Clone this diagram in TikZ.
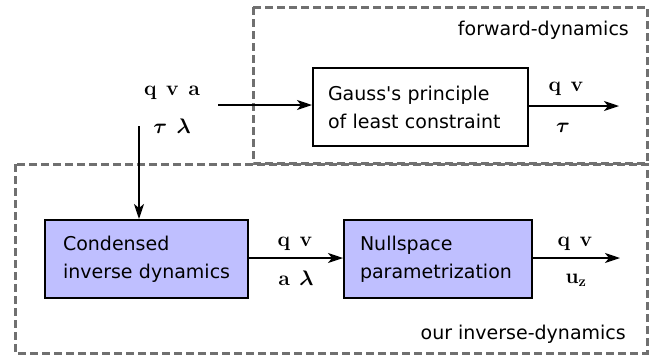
\RequirePackage{fix-cm}
\documentclass[tikz,border=0pt]{standalone}
\usepackage{amsmath,bm}
\usepackage[no-math]{fontspec}
\setmainfont{DejaVu Sans}
\usetikzlibrary{arrows.meta}
\definecolor{dgray}{RGB}{112,112,112}
\definecolor{lav}{RGB}{191,191,255}
\newcommand\txtfont{\fontsize{19}{28}\selectfont}
\newcommand\mthfont{\fontsize{21}{26}\selectfont}
\newcommand\gp{\hspace{0.45em}}
\tikzset{
  blk/.style={draw=black, line width=2pt, minimum height=78pt, align=left, inner ysep=0pt, font=\txtfont},
  dbox/.style={draw=dgray, line width=3pt, dash pattern=on 8pt off 4pt},
  arr/.style={line width=2pt, -{Stealth[length=15pt,width=10pt,inset=4pt]}},
  lbl/.style={inner sep=0pt, font=\mthfont, anchor=base},
  captxt/.style={inner sep=0pt, font=\txtfont, anchor=base east}
}
\begin{document}
\begin{tikzpicture}[x=1pt,y=-1pt]
\useasboundingbox (0,0) rectangle (660,360);
% dashed regions
\draw[dbox] (253,7) rectangle (647,163);
\draw[dbox] (15,164) rectangle (647,353);
\node[captxt] (fd) at (629,35) {forward-dynamics};
\node[captxt] (id) at (626,339) {our inverse-dynamics};
% blocks
\node[blk, text width=185pt, inner xsep=15pt] (gauss) at (420.5,107)
  {\mbox{Gauss\textquotesingle s principle}\\\mbox{of least constraint}};
\node[blk, fill=lav, text width=167pt, inner xsep=18pt] (cond) at (146.5,259)
  {\mbox{Condensed}\\\mbox{inverse dynamics}};
\node[blk, fill=lav, text width=156pt, inner xsep=16pt] (null) at (438,259)
  {\mbox{Nullspace}\\\mbox{parametrization}};
% free ends
\coordinate (in) at (218,105);
\coordinate (in2) at (139,126);
\coordinate (out1) at (619,106);
\coordinate (out2) at (620,258);
% connectors
\draw[arr] (in) -- (in -| gauss.west);
\draw[arr] (in2) -- (in2 |- cond.north);
\draw[arr] (gauss.east |- out1) -- (out1);
\draw[arr] (cond.east |- out2) -- (null.west |- out2);
\draw[arr] (null.east |- out2) -- (out2);
% labels
\node[lbl] (l1) at (172,95) {$\mathbf{q}\gp\mathbf{v}\gp\mathbf{a}$};
\node[lbl] (l2) at (172,133) {$\bm{\tau}\gp\bm{\lambda}$};
\node[lbl] (l3) at (566,91) {$\mathbf{q}\gp\mathbf{v}$};
\node[lbl] (l4) at (563,132) {$\bm{\tau}$};
\node[lbl] (l5) at (295,246) {$\mathbf{q}\gp\mathbf{v}$};
\node[lbl] (l6) at (296,285) {$\mathbf{a}\gp\bm{\lambda}$};
\node[lbl] (l7) at (575,246) {$\mathbf{q}\gp\mathbf{v}$};
\node[lbl] (l8) at (576,283) {$\mathbf{u_z}$};
\end{tikzpicture}
\end{document}
